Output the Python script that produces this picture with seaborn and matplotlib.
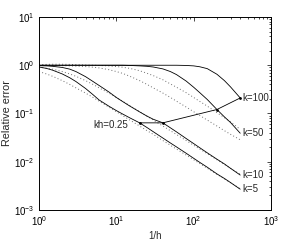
import matplotlib
matplotlib.use("Agg")
import matplotlib.pyplot as plt
import seaborn as sns
import numpy as np

# ---- data ----
inv_h = [1, 1.25, 1.5, 2, 2.5, 3, 4, 5, 6, 8, 10, 12, 15, 20, 25, 30, 40, 50,
         60, 80, 100, 120, 150, 200, 250, 300, 400]

solid_k5 = [0.92, 0.86, 0.79, 0.66, 0.55, 0.46, 0.33, 0.245, 0.19, 0.142, 0.115,
            0.098, 0.081, 0.064, 0.051, 0.042, 0.031, 0.0245, 0.0203, 0.0150,
            0.0118, 0.0097, 0.0077, 0.0056, 0.0045, 0.0037, 0.0027]
solid_k10 = [0.98, 0.97, 0.95, 0.90, 0.83, 0.74, 0.58, 0.46, 0.38, 0.28, 0.215,
             0.178, 0.142, 0.108, 0.088, 0.076, 0.064, 0.0505, 0.0416, 0.0303,
             0.0238, 0.0195, 0.0153, 0.0113, 0.0090, 0.0073, 0.0053]
solid_k50 = [1.0, 1.0, 1.0, 1.0, 1.0, 1.0, 1.0, 1.0, 1.0, 1.0, 1.0, 1.0, 0.99,
             0.97, 0.95, 0.92, 0.84, 0.74, 0.64, 0.47, 0.35, 0.27, 0.195, 0.121,
             0.085, 0.065, 0.039]
solid_k100 = [1.0, 1.0, 1.0, 1.0, 1.0, 1.0, 1.0, 1.0, 1.0, 1.0, 1.0, 1.0, 1.0,
              1.0, 1.0, 1.0, 1.0, 1.0, 1.0, 0.99, 0.97, 0.93, 0.85, 0.65, 0.48,
              0.355, 0.21]

dot_k5 = [0.74, 0.66, 0.59, 0.48, 0.40, 0.34, 0.265, 0.215, 0.18, 0.136, 0.109,
          0.091, 0.073, 0.055, 0.044, 0.037, 0.0275, 0.022, 0.0183, 0.0138,
          0.011, 0.0092, 0.0073, 0.0055, 0.0044, 0.0037, 0.00275]
dot_k10 = [0.91, 0.87, 0.83, 0.74, 0.66, 0.59, 0.48, 0.40, 0.34, 0.265, 0.215,
           0.18, 0.145, 0.109, 0.088, 0.073, 0.055, 0.044, 0.0367, 0.0275,
           0.022, 0.0183, 0.0147, 0.011, 0.0088, 0.0073, 0.0055]
dot_k50 = [1.0, 1.0, 0.99, 0.98, 0.97, 0.96, 0.94, 0.91, 0.88, 0.81, 0.74, 0.68,
           0.59, 0.48, 0.40, 0.34, 0.265, 0.215, 0.18, 0.136, 0.109, 0.091,
           0.073, 0.055, 0.044, 0.037, 0.0285]
dot_k100 = [1.03, 1.04, 1.05, 1.05, 1.04, 1.03, 1.01, 1.0, 0.99, 0.97, 0.94,
            0.91, 0.86, 0.77, 0.68, 0.61, 0.50, 0.41, 0.35, 0.27, 0.215, 0.178,
            0.142, 0.104, 0.082, 0.067, 0.047]

kh_inv_h = [20, 40, 200, 400]
kh_err = [0.064, 0.064, 0.121, 0.21]

curve_labels = ["k=5", "k=10", "k=50", "k=100"]
kh_label = "kh=0.25"
xlabel = "1/h"
ylabel = "Relative error"

# ---- style ----
sns.set_style("white")
plt.rcParams["font.family"] = ["Liberation Sans", "DejaVu Sans"]
plt.rcParams["mathtext.fontset"] = "custom"
plt.rcParams["mathtext.rm"] = "Liberation Sans"
plt.rcParams["mathtext.it"] = "Liberation Sans:italic"
FS = 7

fig = plt.figure(figsize=(3.0, 2.41), dpi=100)
ax = fig.add_axes([0.13, 0.1286, 0.7733, 0.8009])

solids = [solid_k5, solid_k10, solid_k50, solid_k100]
dots = [dot_k5, dot_k10, dot_k50, dot_k100]

for ys in dots:
    sns.lineplot(x=inv_h, y=ys, ax=ax, color="#6e6e6e", lw=0.7,
                 linestyle=(0, (1, 2.4)), estimator=None, sort=False)
for ys in solids:
    sns.lineplot(x=inv_h, y=ys, ax=ax, color="black", lw=0.6,
                 estimator=None, sort=False)

sns.lineplot(x=kh_inv_h, y=kh_err, ax=ax, color="black", lw=0.6,
             marker="o", markersize=2, markeredgewidth=0, estimator=None,
             sort=False)

ax.set_xscale("log")
ax.set_yscale("log")
ax.set_xlim(1, 1000)
ax.set_ylim(1e-3, 10)

for ys, lab in zip(solids, curve_labels):
    ax.annotate(lab, xy=(inv_h[-1], ys[-1]), xytext=(1.5, 0),
                textcoords="offset points", ha="left", va="center",
                fontsize=FS)
ax.annotate(kh_label, xy=(kh_inv_h[0], kh_err[0]), xytext=(-8, -1.5),
            textcoords="offset points", ha="right", va="center", fontsize=FS)

ax.set_xlabel(xlabel, fontsize=FS, labelpad=2)
ax.set_ylabel(ylabel, fontsize=7.8, labelpad=1.5)

for s in ax.spines.values():
    s.set_linewidth(0.7)
    s.set_color("black")
ax.tick_params(which="both", direction="in", top=True, right=True,
               labelsize=FS, width=0.5, colors="black", pad=3)
ax.tick_params(which="major", length=3)
ax.tick_params(which="minor", length=1.6)
ax.xaxis.set_minor_locator(matplotlib.ticker.LogLocator(base=10, subs=np.arange(2, 10)))
ax.yaxis.set_minor_locator(matplotlib.ticker.LogLocator(base=10, subs=np.arange(2, 10)))
ax.yaxis.set_minor_formatter(matplotlib.ticker.NullFormatter())
ax.xaxis.set_minor_formatter(matplotlib.ticker.NullFormatter())

fig.savefig("out.png", dpi=100)
